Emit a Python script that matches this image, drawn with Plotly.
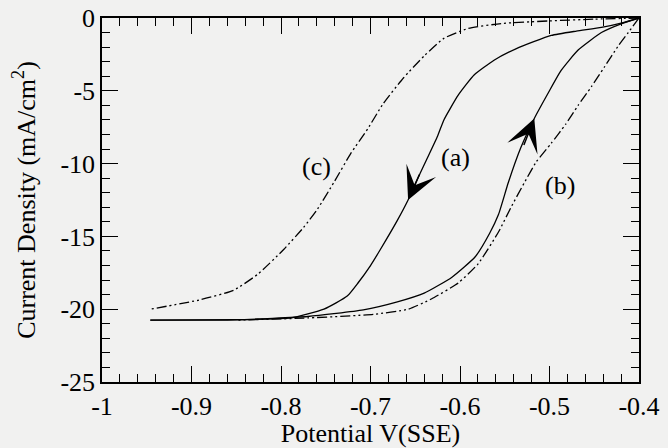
import plotly.graph_objects as go

# ---- data ----
a_fwd_x = [-0.400, -0.420, -0.442, -0.470, -0.498, -0.537, -0.562, -0.584, -0.602, -0.618, -0.625,
           -0.644, -0.658, -0.670, -0.689, -0.700, -0.714, -0.726, -0.752, -0.789, -0.850, -0.946]
a_fwd_y = [0.0, -0.35, -0.65, -0.9, -1.2, -2.1, -2.9, -3.9, -5.3, -7.0, -8.1,
           -10.6, -12.5, -13.9, -15.9, -17.0, -18.2, -19.1, -20.0, -20.6, -20.72, -20.75]

a_rev_x = [-0.946, -0.850, -0.770, -0.708, -0.670, -0.640, -0.609, -0.583, -0.567, -0.557,
           -0.546, -0.532, -0.517, -0.501, -0.487, -0.468, -0.442, -0.420, -0.400]
a_rev_y = [-20.75, -20.73, -20.5, -20.05, -19.5, -18.9, -17.8, -16.4, -14.8, -13.5,
           -11.3, -8.9, -6.9, -5.1, -3.6, -2.2, -1.0, -0.4, 0.0]

b_x = [-0.400, -0.412, -0.423, -0.439, -0.453, -0.468, -0.482, -0.498, -0.515, -0.528,
       -0.543, -0.557, -0.580, -0.602, -0.632, -0.658, -0.696, -0.770, -0.850]
b_y = [0.0, -1.0, -1.9, -3.4, -4.7, -6.0, -7.3, -8.6, -9.9, -11.3,
       -13.0, -14.7, -16.9, -18.2, -19.3, -20.0, -20.35, -20.6, -20.75]

c_x = [-0.400, -0.450, -0.500, -0.554, -0.591, -0.618, -0.640, -0.663, -0.686, -0.703,
       -0.722, -0.741, -0.759, -0.775, -0.797, -0.826, -0.853, -0.890, -0.946]
c_y = [0.0, -0.08, -0.2, -0.38, -0.72, -1.4, -2.6, -4.1, -5.9, -7.6,
       -9.3, -11.3, -13.1, -14.4, -15.9, -17.6, -18.7, -19.35, -20.0]

x_tickvals = [-1.0, -0.9, -0.8, -0.7, -0.6, -0.5, -0.4]
x_ticktext = ["-1", "-0.9", "-0.8", "-0.7", "-0.6", "-0.5", "-0.4"]
y_tickvals = [0, -5, -10, -15, -20, -25]
y_ticktext = ["0", "-5", "-10", "-15", "-20", "-25"]

labels = ["(a)", "(b)", "(c)"]
label_x = [-0.6045, -0.488, -0.760]
label_y = [-9.55, -11.5, -10.2]

arrow_down_idx = 12   # point on a_fwd where the downward arrow sits
arrow_up_idx = 12     # point on a_rev where the upward arrow sits

FONT = "Liberation Serif"
FS = 26
BG = "#f1f1f0"

fig = go.Figure()
solid = dict(color="black", width=1.3, shape="spline", smoothing=0.5)
dashdot = dict(color="black", width=1.3, dash="10px,3px,2px,3px,2px,3px",
               shape="spline", smoothing=0.5)

fig.add_trace(go.Scatter(x=a_fwd_x, y=a_fwd_y, mode="lines", line=solid, showlegend=False))
fig.add_trace(go.Scatter(x=a_rev_x, y=a_rev_y, mode="lines", line=solid, showlegend=False))
fig.add_trace(go.Scatter(x=b_x, y=b_y, mode="lines", line=dashdot, showlegend=False))
fig.add_trace(go.Scatter(x=c_x, y=c_y, mode="lines", line=dashdot, showlegend=False))

for t, lx, ly in zip(labels, label_x, label_y):
    fig.add_annotation(x=lx, y=ly, text=t, showarrow=False,
                       font=dict(family=FONT, size=FS, color="black"))

fig.add_annotation(x=a_fwd_x[arrow_down_idx], y=a_fwd_y[arrow_down_idx], text="",
                   showarrow=True, arrowhead=3, arrowsize=3.6, arrowwidth=1.5,
                   arrowcolor="black", ax=12, ay=-27)
fig.add_annotation(x=a_rev_x[arrow_up_idx], y=a_rev_y[arrow_up_idx], text="",
                   showarrow=True, arrowhead=3, arrowsize=3.6, arrowwidth=1.5,
                   arrowcolor="black", ax=-11, ay=28)

axis_common = dict(
    showgrid=False, zeroline=False, showline=True, linecolor="black", linewidth=1.5,
    mirror="ticks", ticks="inside", ticklen=16, tickwidth=1.3, tickcolor="black",
    tickfont=dict(family=FONT, size=FS, color="black"), automargin=False,
)

fig.update_xaxes(range=[-1.0, -0.4], tickvals=x_tickvals, ticktext=x_ticktext,
                 minor=dict(dtick=0.02, ticks="inside", ticklen=8, tickwidth=1.2, tickcolor="black"),
                 title=dict(text="Potential V(SSE)", font=dict(family=FONT, size=FS, color="black"),
                            standoff=0),
                 **axis_common)
fig.update_yaxes(range=[-25, 0], tickvals=y_tickvals, ticktext=y_ticktext,
                 minor=dict(dtick=1, ticks="inside", ticklen=8, tickwidth=1.2, tickcolor="black"),
                 title=dict(text="Current Density (mA/cm<sup>2</sup>)",
                            font=dict(family=FONT, size=FS, color="black"), standoff=17),
                 **axis_common)

fig.update_layout(width=668, height=448, paper_bgcolor=BG, plot_bgcolor=BG,
                  margin=dict(l=102, r=29, t=18, b=66), showlegend=False)

fig.write_html("out.html", config={"displayModeBar": False},
               post_script="document.body.style.margin='0';document.body.style.background='%s';" % BG)
